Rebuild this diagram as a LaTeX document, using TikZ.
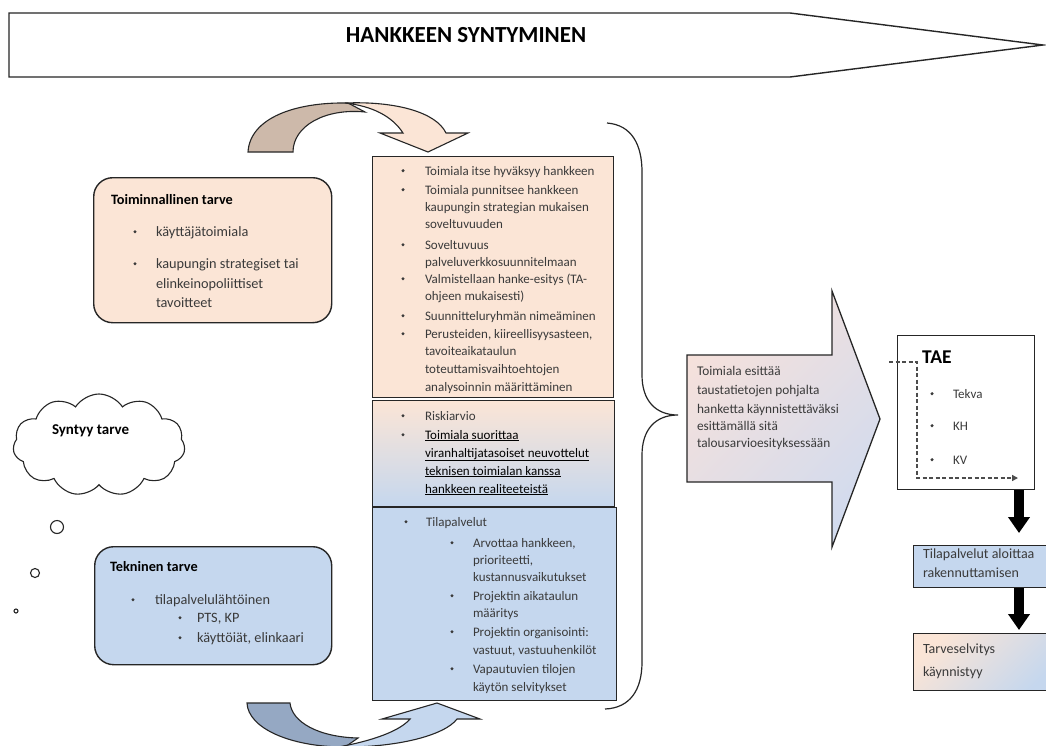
\documentclass[tikz,border=0pt]{standalone}
\usepackage{fontspec}
\setmainfont{Carlito}
\usetikzlibrary{shapes.symbols,arrows.meta}

\definecolor{peach}{HTML}{FBE5D6}
\definecolor{skyblue}{HTML}{C5D7EE}
\definecolor{backtan}{HTML}{CDB9AA}
\definecolor{backslate}{HTML}{95A8C3}
\definecolor{rosetint}{HTML}{F6E1DB}
\definecolor{bluetint}{HTML}{D2DBEE}
\definecolor{bodygray}{HTML}{3A3A3A}

\newcommand\fsize[1]{\fontsize{#1}{#1}\selectfont}
\newcounter{txtno}
% one line of text, baseline-left at (x,y)
\newcommand\txtline[4][]{\stepcounter{txtno}%
  \node[textline,#1] (line\arabic{txtno}) at (#2,#3) {#4};}
% bullet at x=#2, text at x=#3, baseline y=#4; option #1 goes to the text only
\newcommand\bulline[5][]{\stepcounter{txtno}%
  \node[bulletdot] (dot\arabic{txtno}) at (#2,#4-4.3) {};%
  \node[textline,#1] (line\arabic{txtno}) at (#3,#4) {#5};}

\begin{document}
\begin{tikzpicture}[x=1pt,y=-1pt,
  textline/.style={anchor=base west, inner sep=0pt, outer sep=0pt, text=bodygray, font=\fsize{13}},
  bulletdot/.style={circle, fill=bodygray, inner sep=0pt, minimum size=3.4pt},
  panel/.style={draw=black!85, line width=1.4pt, anchor=north west, inner sep=0pt},
  softpanel/.style={panel, rounded corners=19pt},
  outline/.style={draw=black!85, line width=1.1pt},
  heavyarrow/.style={draw=black, line width=10pt, -{Triangle[length=16pt,width=21pt]}},
  dashflow/.style={draw=black!70, line width=1.4pt, dash pattern=on 4pt off 2.5pt, -{Triangle[length=6pt,width=6pt]}},
  bubble/.style={circle, draw=black!85, line width=1.1pt, inner sep=0pt},
  heading/.style={anchor=base west, inner sep=0pt, text=black, font=\fsize{14.3}\bfseries}
]
\useasboundingbox (0,0) rectangle (1046,745);
\clip (0,0) rectangle (1046,745);
\fill[white] (0,0) rectangle (1046,745);

% ---- banner ----
\draw[draw=black!85, line width=1.4pt, fill=white]
  (9,13) -- (790,13) -- (1043,45) -- (790,77) -- (9,77) -- cycle;
\node[anchor=base, inner sep=0pt, font=\fsize{23}\bfseries] (banner) at (466,42) {HANKKEEN SYNTYMINEN};

% ---- curved arrow, top ----
\draw[outline, fill=backtan] (248,152) .. controls (250,118) and (295,102) .. (348,103)
  -- (365,112) .. controls (325,108) and (293,126) .. (293,152) -- cycle;
\draw[outline, fill=peach] (345,103) .. controls (395,101) and (436,112) .. (446,133)
  -- (468,133) -- (428,152) -- (380,133) -- (403,133)
  .. controls (392,116) and (372,106) .. (345,103) -- cycle;

% ---- curved arrow, bottom ----
\draw[outline, fill=backslate] (247,703) -- (290,703) .. controls (292,722) and (318,737) .. (358,738)
  -- (345,747) .. controls (290,747) and (248,728) .. (247,703) -- cycle;
\draw[outline, fill=skyblue] (338,747) .. controls (398,748) and (445,735) .. (457,719)
  -- (480,719) -- (437,703) -- (382,719) -- (410,719)
  .. controls (400,731) and (372,741) .. (338,747) -- cycle;

% ---- left panels ----
\node[softpanel, fill=peach, minimum width=238pt, minimum height=145pt] (need1) at (93,177) {};
\txtline[heading]{111}{204}{Toiminnallinen tarve}
\begin{scope}[textline/.append style={font=\fsize{14.3}}]
\bulline{135}{156}{236}{käyttäjätoimiala}
\bulline{135}{156}{268}{kaupungin strategiset tai}
\txtline{156}{288}{elinkeinopoliittiset}
\txtline{156}{307}{tavoitteet}
\end{scope}

\node[softpanel, fill=skyblue, minimum width=237pt, minimum height=118pt] (need2) at (94,546) {};
\txtline[heading]{110}{571}{Tekninen tarve}
\begin{scope}[textline/.append style={font=\fsize{14.3}}]
\bulline{133}{155}{604}{tilapalvelulähtöinen}
\bulline{180}{197}{622}{PTS, KP}
\bulline{180}{197}{642}{käyttöiät, elinkaari}
\end{scope}

% ---- thought cloud ----
\node[cloud, draw=black!85, line width=1.1pt, fill=white, cloud puffs=11, cloud puff arc=115,
  cloud ignores aspect, minimum width=172pt, minimum height=102pt] (cloud) at (99,445) {};
\txtline[heading, font=\fsize{15}\bfseries]{52}{434}{Syntyy tarve}
\node[bubble, minimum size=13pt] (bub1) at (57,527) {};
\node[bubble, minimum size=9pt] (bub2) at (35,573) {};
\node[bubble, minimum size=4pt] (bub3) at (16,611) {};

% ---- central panels ----
\node[panel, fill=peach, minimum width=241pt, minimum height=241pt] (stepA) at (372,156) {};
\bulline{403}{425}{175}{Toimiala itse hyväksyy hankkeen}
\bulline{403}{425}{194}{Toimiala punnitsee hankkeen}
\txtline{425}{211}{kaupungin strategian mukaisen}
\txtline{425}{228}{soveltuvuuden}
\bulline{403}{425}{249}{Soveltuvuus}
\txtline{425}{266}{palveluverkkosuunnitelmaan}
\bulline{403}{425}{283}{Valmistellaan hanke-esitys (TA-}
\txtline{425}{300}{ohjeen mukaisesti)}
\bulline{403}{425}{320}{Suunnitteluryhmän nimeäminen}
\bulline{403}{425}{338}{Perusteiden, kiireellisyysasteen,}
\txtline{425}{355}{tavoiteaikataulun}
\txtline{425}{373}{toteuttamisvaihtoehtojen}
\txtline{425}{391}{analysoinnin määrittäminen}

\node[panel, top color=peach, bottom color=skyblue, minimum width=242pt, minimum height=106pt] (stepB) at (372,400) {};
\bulline{403}{425}{420}{Riskiarvio}
\bulline[text=black]{403}{425}{439}{\underline{Toimiala suorittaa}}
\txtline[text=black]{425}{457}{\underline{viranhaltijatasoiset neuvottelut}}
\txtline[text=black]{425}{475}{\underline{teknisen toimialan kanssa}}
\txtline[text=black]{425}{493}{\underline{hankkeen realiteeteistä}}

\node[panel, fill=skyblue, minimum width=244pt, minimum height=193pt] (stepC) at (372,507) {};
\bulline{406}{426}{526}{Tilapalvelut}
\bulline{452}{473}{547}{Arvottaa hankkeen,}
\txtline{473}{564}{prioriteetti,}
\txtline{473}{581}{kustannusvaikutukset}
\bulline{452}{473}{600}{Projektin aikataulun}
\txtline{473}{617}{määritys}
\bulline{452}{473}{636}{Projektin organisointi:}
\txtline{473}{654}{vastuut, vastuuhenkilöt}
\bulline{452}{473}{673}{Vapautuvien tilojen}
\txtline{473}{691}{käytön selvitykset}

% ---- brace gathering the three steps ----
\draw[draw=black!85, line width=1.2pt]
  (607,123) .. controls (632,125) and (642,145) .. (642,172) -- (642,375)
  .. controls (642,400) and (655,415) .. (678,415)
  .. controls (655,415) and (642,430) .. (642,455) -- (642,662)
  .. controls (642,690) and (630,708) .. (605,709);

% ---- big block arrow ----
\draw[draw=black!85, line width=1.3pt, top color=rosetint, bottom color=bluetint, shading angle=45]
  (687,355) -- (832,355) -- (832,291) -- (880,419) -- (832,547) -- (832,482) -- (687,482) -- cycle;
\begin{scope}[textline/.append style={font=\fsize{13.3}}]
\txtline{697}{375}{Toimiala esittää}
\txtline{697}{394}{taustatietojen pohjalta}
\txtline{697}{413}{hanketta käynnistettäväksi}
\txtline{697}{430}{esittämällä sitä}
\txtline{697}{447}{talousarvioesityksessään}
\end{scope}

% ---- budget box ----
\node[panel, fill=white, minimum width=137pt, minimum height=154pt] (tae) at (897,335) {};
\node[anchor=base west, inner sep=0pt, font=\fsize{19.5}\bfseries] (taetitle) at (922,363) {TAE};
\bulline{932}{953}{398}{Tekva}
\bulline{932}{953}{430}{KH}
\bulline{932}{953}{464}{KV}
\coordinate (dashstart) at (889,362);
\coordinate (dashcorner1) at (917,362);
\coordinate (dashcorner2) at (917,478);
\coordinate (dashend) at (1018,478);
\draw[dashflow] (dashstart) -- (dashcorner1) -- (dashcorner2) -- (dashend);

% ---- follow-up boxes ----
\node[panel, fill=skyblue, minimum width=145pt, minimum height=42pt] (build) at (913,545) {};
\txtline[font=\fsize{14}]{923}{558}{Tilapalvelut aloittaa}
\txtline[font=\fsize{14}]{923}{577}{rakennuttamisen}

\node[panel, top color=peach, bottom color=skyblue, shading angle=45, minimum width=145pt, minimum height=57pt] (study) at (913,633) {};
\txtline[font=\fsize{14}]{923}{653}{Tarveselvitys}
\txtline[font=\fsize{14}]{923}{676}{käynnistyy}

\coordinate (flowcol) at (1019,0);
\draw[heavyarrow, shorten >=12pt] (tae.south -| flowcol) -- (build.north -| flowcol);
\draw[heavyarrow, shorten >=3pt] (build.south -| flowcol) -- (study.north -| flowcol);

\end{tikzpicture}
\end{document}
